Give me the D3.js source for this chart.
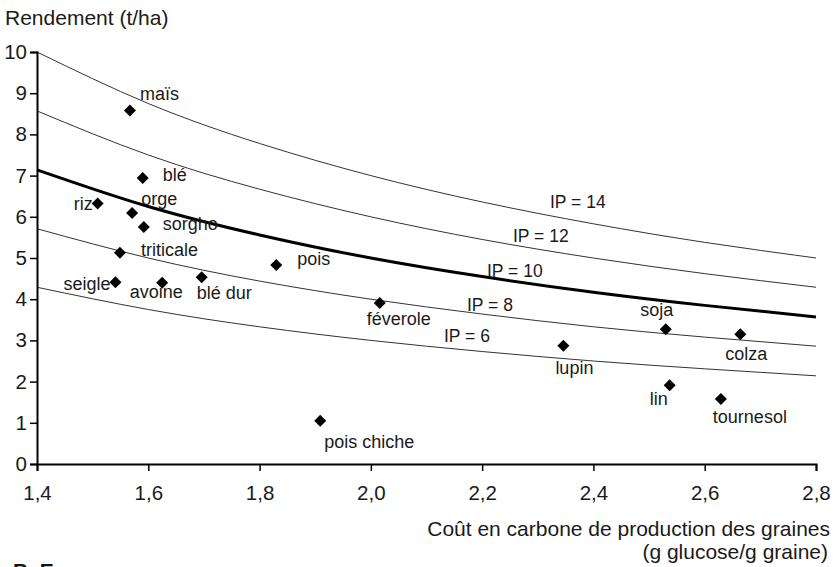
<!DOCTYPE html>
<html>
<head>
<meta charset="utf-8">
<script src="https://cdn.jsdelivr.net/npm/d3@7"></script>
<style>
  html, body { margin: 0; padding: 0; background: #fff; }
  svg { display: block; font-family: "Liberation Sans", Arial, sans-serif; }
</style>
</head>
<body>
<svg id="chart" width="839" height="567"></svg>
<script>
// ---- Data ----
const crops = ["maïs","blé","riz","orge","sorgho","triticale","seigle","avoine","blé dur","pois","féverole","lupin","soja","colza","lin","tournesol","pois chiche"];
const carbonCost = [1.567,1.590,1.509,1.571,1.592,1.549,1.541,1.625,1.696,1.830,2.016,2.346,2.530,2.664,2.537,2.629,1.909];
const yieldTha   = [8.58,6.94,6.32,6.09,5.75,5.13,4.41,4.40,4.53,4.83,3.91,2.87,3.27,3.15,1.91,1.58,1.05];

// Iso-IP curves at these x values
const curveX = [1.4,1.6,1.8,2.0,2.2,2.4,2.6,2.8];
const ipLevels = [6,8,10,12,14];
const ip6  = [4.29,3.75,3.33,3.00,2.73,2.50,2.31,2.14];
const ip8  = [5.71,5.00,4.44,4.00,3.64,3.33,3.08,2.86];
const ip10 = [7.14,6.25,5.56,5.00,4.55,4.17,3.85,3.57];
const ip12 = [8.57,7.50,6.67,6.00,5.45,5.00,4.62,4.29];
const ip14 = [10.0,8.75,7.78,7.00,6.36,5.83,5.38,5.00];
const ipLabels = ["IP = 6","IP = 8","IP = 10","IP = 12","IP = 14"];

const xTicks = [1.4,1.6,1.8,2.0,2.2,2.4,2.6,2.8];
const yTicks = [0,1,2,3,4,5,6,7,8,9,10];

// ---- Layout (label placement, pixels) ----
const labelLayout = [
  {dx:10, dy:-11, a:"start"},   // maïs
  {dx:20, dy:3, a:"start"},     // blé
  {dx:-5, dy:6, a:"end"},       // riz
  {dx:9, dy:-8, a:"start"},     // orge
  {dx:19, dy:3, a:"start"},     // sorgho
  {dx:21, dy:3, a:"start"},     // triticale
  {dx:-5, dy:8, a:"end"},       // seigle
  {dx:-6, dy:15, a:"middle"},   // avoine
  {dx:-5, dy:22, a:"start"},    // blé dur
  {dx:21, dy:0, a:"start"},     // pois
  {dx:19, dy:22, a:"middle"},   // féverole
  {dx:-8, dy:28, a:"start"},    // lupin
  {dx:-9, dy:-13, a:"middle"},  // soja
  {dx:6, dy:26, a:"middle"},    // colza
  {dx:-2, dy:20, a:"end"},      // lin
  {dx:-8, dy:24, a:"start"},    // tournesol
  {dx:4, dy:27, a:"start"}      // pois chiche
];
const ipLabelPos = [[444,342],[467,311],[487,277],[513,242],[550,208]];

const svg = d3.select("#chart");
const x = d3.scaleLinear().domain([1.4, 2.8]).range([37, 816]);
const y = d3.scaleLinear().domain([0, 10]).range([464, 52]);

// Curves
const series = [ip6, ip8, ip10, ip12, ip14];
const line = d3.line().x(d => x(d[0])).y(d => y(d[1])).curve(d3.curveNatural);
series.forEach((vals, i) => {
  const pts = curveX.map((cx, j) => [cx, vals[j]]);
  svg.append("path")
    .attr("d", line(pts))
    .attr("fill", "none")
    .attr("stroke", ipLevels[i] === 10 ? "#000" : "#333")
    .attr("stroke-width", ipLevels[i] === 10 ? 3 : 1);
});

// IP labels
ipLabels.forEach((t, i) => {
  svg.append("text")
    .attr("x", ipLabelPos[i][0]).attr("y", ipLabelPos[i][1])
    .attr("font-size", 17.5).attr("fill", "#1a1a1a")
    .text(t);
});

// Axes
const xAxis = d3.axisBottom(x).tickValues(xTicks).tickSize(7)
  .tickFormat(d => d3.format(".1f")(d).replace(".", ","));
const gx = svg.append("g").attr("transform", `translate(0,464)`).call(xAxis);
gx.select(".domain").attr("stroke", "#000").attr("stroke-width", 2);
gx.selectAll(".tick line").attr("stroke", "#000").attr("stroke-width", 1.5);
gx.selectAll(".tick text").attr("font-size", 20.5).attr("fill", "#1a1a1a")
  .attr("font-family", "Liberation Sans, Arial, sans-serif").attr("dy", "0").attr("y", 36);

const yAxis = d3.axisLeft(y).tickValues(yTicks).tickSize(7).tickFormat(d3.format("d"));
const gy = svg.append("g").attr("transform", `translate(37,0)`).call(yAxis);
gy.select(".domain").attr("stroke", "#000").attr("stroke-width", 2);
gy.selectAll(".tick line").attr("stroke", "#000").attr("stroke-width", 1.5);
gy.selectAll(".tick text").attr("font-size", 20.5).attr("fill", "#1a1a1a")
  .attr("font-family", "Liberation Sans, Arial, sans-serif").attr("x", -10);

// Points
const diamond = d3.symbol().type(d3.symbolSquare).size(72);
crops.forEach((c, i) => {
  svg.append("path")
    .attr("d", diamond())
    .attr("transform", `translate(${x(carbonCost[i])},${y(yieldTha[i])}) rotate(45)`)
    .attr("fill", "#000");
  const L = labelLayout[i];
  svg.append("text")
    .attr("x", x(carbonCost[i]) + L.dx)
    .attr("y", y(yieldTha[i]) + L.dy)
    .attr("text-anchor", L.a)
    .attr("font-size", 18).attr("fill", "#1a1a1a")
    .text(c);
});

// Titles
svg.append("text").attr("x", 5).attr("y", 25).attr("font-size", 21).attr("fill", "#1a1a1a")
  .text("Rendement (t/ha)");
svg.append("text").attr("x", 830).attr("y", 536).attr("text-anchor", "end")
  .attr("font-size", 21).attr("fill", "#1a1a1a")
  .text("Coût en carbone de production des graines");
svg.append("text").attr("x", 828).attr("y", 559).attr("text-anchor", "end")
  .attr("font-size", 21).attr("fill", "#1a1a1a")
  .text("(g glucose/g graine)");
svg.append("text").attr("x", 13).attr("y", 578).attr("font-size", 21)
  .attr("font-weight", "bold").attr("fill", "#111").text("B. E");
</script>
</body>
</html>
